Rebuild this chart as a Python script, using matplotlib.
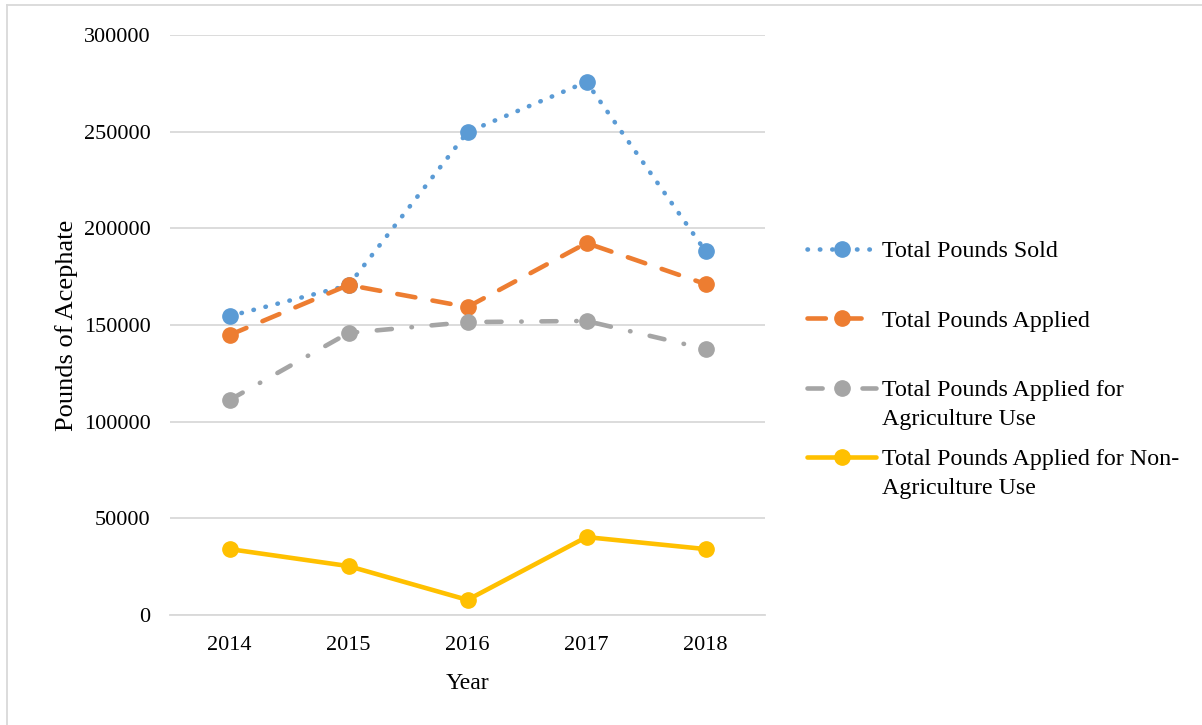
import matplotlib.pyplot as plt
from matplotlib.lines import Line2D

plt.rcParams['font.family'] = ['Liberation Serif', 'DejaVu Serif']

years = ['2014', '2015', '2016', '2017', '2018']
total_sold = [154600, 170500, 249800, 275700, 188200]
total_applied = [144800, 170700, 159300, 192400, 171200]
applied_agri = [111200, 145900, 151500, 152100, 137600]
applied_non_agri = [34100, 25300, 7800, 40300, 34100]

fig = plt.figure(figsize=(12.02, 7.25), dpi=100)
ax = fig.add_axes([170 / 1202, 110 / 725, 595 / 1202, 580 / 725])

x = range(len(years))
lw = 3.3
ax.plot(x, total_sold, color='#5b9bd5', lw=lw, ls=(0, (0.1, 2.6)), dash_capstyle='round',
        marker='o', ms=11, label='Total Pounds Sold')
ax.plot(x, total_applied, color='#ed7d31', lw=lw, ls=(0, (4, 3.8)), dash_capstyle='round',
        marker='o', ms=11, label='Total Pounds Applied')
ax.plot(x, applied_agri, color='#a5a5a5', lw=lw, ls=(0, (3.3, 4.3, 0.1, 4.3)), dash_capstyle='round',
        marker='o', ms=11, label='Total Pounds Applied for')
ax.plot(x, applied_non_agri, color='#ffc000', lw=lw, solid_capstyle='round',
        marker='o', ms=11, label='Total Pounds Applied for Non-')

ax.set_xlim(-0.5, 4.5)
ax.set_ylim(0, 300000)
ax.set_yticks(range(0, 300001, 50000))
ax.set_xticks(list(x))
ax.set_xticklabels(years)
ax.tick_params(length=0, labelsize=16)
ax.tick_params(axis='y', pad=14)
ax.tick_params(axis='x', pad=15)
ax.grid(axis='y', color='#d9d9d9', lw=1.3)
ax.set_axisbelow(True)
for s in ['top', 'right', 'left']:
    ax.spines[s].set_visible(False)
ax.spines['bottom'].set_color('#d9d9d9')
ax.spines['bottom'].set_linewidth(1.3)

ax.set_xlabel('Year', fontsize=17, labelpad=13)
ax.set_ylabel('Pounds of Acephate', fontsize=19, labelpad=4)

leg = ax.legend(loc='upper left', bbox_to_anchor=(1.035, 0.683), frameon=False, fontsize=17.3,
                handlelength=2.85, labelspacing=1.98, handletextpad=0.25)

# second lines of the wrapped legend labels, placed under their first lines
fig.canvas.draw()
second_lines = {2: 'Agriculture Use', 3: 'Agriculture Use'}
for i, txt in second_lines.items():
    fig.add_artist(plt.Annotation(txt, xy=(0, 0), xycoords=leg.get_texts()[i], xytext=(0, -5.5),
                                  textcoords='offset points', ha='left', va='top', fontsize=17.3))

# outer frame (left and top edges only visible in the reference)
fig.add_artist(Line2D([6.5 / 1202, 6.5 / 1202], [0, 720 / 725], transform=fig.transFigure,
                      color='#d9d9d9', lw=1.3))
fig.add_artist(Line2D([6.5 / 1202, 1], [720 / 725, 720 / 725], transform=fig.transFigure,
                      color='#d9d9d9', lw=1.3))

fig.savefig('out.png', dpi=100)
